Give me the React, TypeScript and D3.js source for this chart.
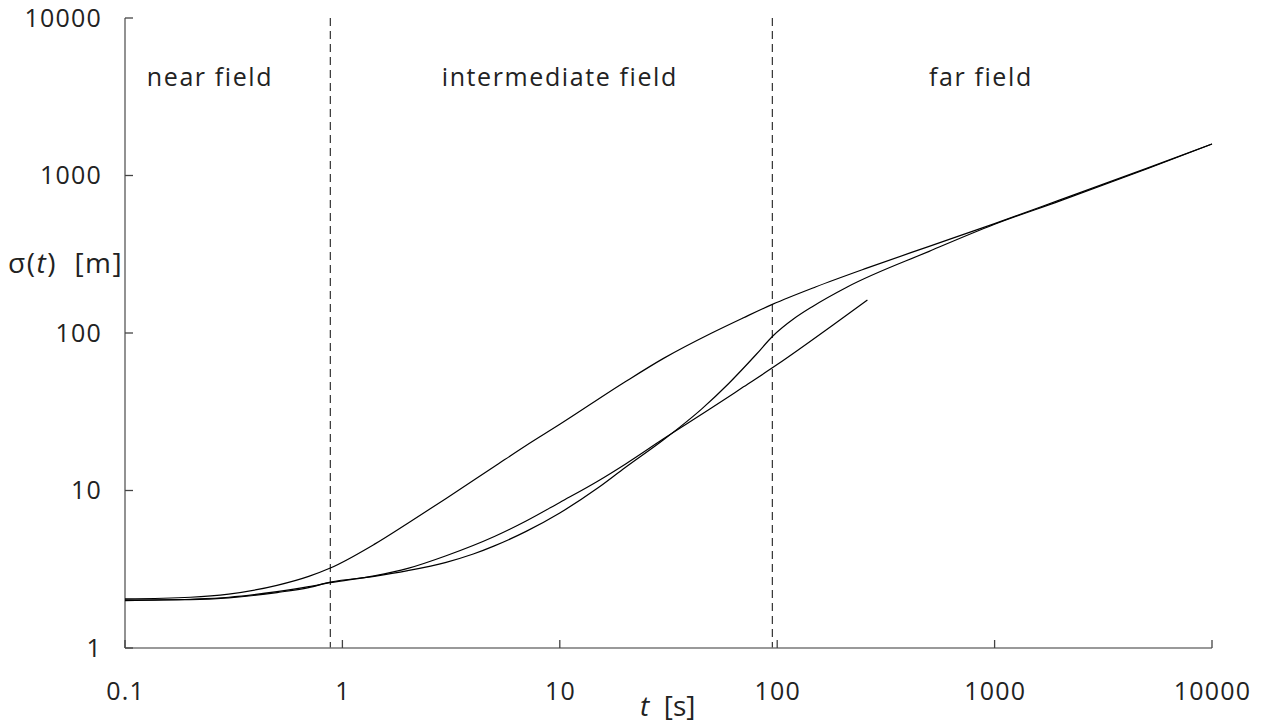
import React from 'react';
import * as d3 from 'd3';

// tick values and their labels
const xTicks = [0.1, 1, 10, 100, 1000, 10000];
const xTickLabels = ['0.1', '1', '10', '100', '1000', '10000'];
const yTicks = [1, 10, 100, 1000, 10000];
const yTickLabels = ['1', '10', '100', '1000', '10000'];

// region boundaries (t in s) and region names
const boundaries = [0.88, 95];
const regionNames = ['near field', 'intermediate field', 'far field'];
const regionCenters = [0.246, 10, 865];

// curve 1: upper curve
const tA = [0.1, 0.2, 0.3, 0.5, 0.7, 0.88, 1.4, 2, 3, 5, 7, 10, 20, 30, 50, 70, 95, 150, 260, 500, 1000, 2000, 5000, 10000];
const sA = [2.05, 2.1, 2.2, 2.5, 2.85, 3.22, 4.55, 6.2, 8.9, 14.2, 19.3, 26.3, 49, 69, 100, 125, 152, 196, 259, 355, 495, 700, 1110, 1585];

// curve 2: straight-ish curve ending near t = 260
const tB = [0.1, 0.2, 0.3, 0.5, 0.7, 0.88, 1.4, 2, 3, 5, 7, 10, 15, 20, 30, 50, 70, 100, 180, 260];
const sB = [2.0, 2.04, 2.1, 2.28, 2.45, 2.6, 2.87, 3.2, 3.85, 5.1, 6.4, 8.4, 11.5, 14.7, 21.3, 33.5, 45.5, 63, 112, 162];

// curve 3: lower curve joining the upper one in the far field
const tC = [0.1, 0.2, 0.3, 0.5, 0.7, 0.88, 1.4, 2, 3, 4, 5, 7, 10, 15, 20, 30, 45, 60, 80, 95, 120, 145, 210, 500, 1000, 2000, 5000, 10000];
const sC = [2.02, 2.03, 2.08, 2.25, 2.42, 2.62, 2.85, 3.1, 3.5, 3.95, 4.45, 5.5, 7.2, 10.4, 14, 21, 33, 48, 73, 95, 124, 147, 196, 330, 490, 690, 1100, 1585];

const font = '"Open Sans", "DejaVu Sans", sans-serif';

const App = () => {
  const width = 1262;
  const height = 723;

  const x = d3.scaleLog().domain([0.1, 10000]).range([125, 1212]);
  const y = d3.scaleLog().domain([1, 10000]).range([648, 18]);

  const line = d3.line<[number, number]>()
    .x(d => x(d[0]))
    .y(d => y(d[1]))
    .curve(d3.curveMonotoneX);

  const curves = [
    tA.map((t, i) => [t, sA[i]] as [number, number]),
    tB.map((t, i) => [t, sB[i]] as [number, number]),
    tC.map((t, i) => [t, sC[i]] as [number, number]),
  ];

  const [x0, x1] = x.range();
  const [y0, y1] = y.range();

  return (
    <svg width={width} height={height}
      style={{ position: 'absolute', left: 0, top: 0, display: 'block', background: '#fff' }}
      fontFamily={font}>
      {/* region boundaries */}
      {boundaries.map(b => (
        <line key={b} x1={x(b)} x2={x(b)} y1={y1} y2={y0}
          stroke="#333" strokeWidth={1.2} strokeDasharray="8,5" />
      ))}

      {/* axes */}
      <line x1={x0} x2={x1} y1={y0} y2={y0} stroke="#777" strokeWidth={1.6} />
      <line x1={x0} x2={x0} y1={y0} y2={y1} stroke="#777" strokeWidth={1.6} />
      {xTicks.map((t, i) => (
        <g key={'x' + t}>
          <line x1={x(t)} x2={x(t)} y1={y0} y2={y0 - 8} stroke="#444" strokeWidth={1.3} />
          <text x={x(t) + 0.6} y={700} textAnchor="middle" fontSize={25} letterSpacing={1.2} fill="#222">{xTickLabels[i]}</text>
        </g>
      ))}
      {yTicks.map((v, i) => (
        <g key={'y' + v}>
          <line x1={x0} x2={x0 + 8} y1={y(v)} y2={y(v)} stroke="#444" strokeWidth={1.3} />
          <text x={102} y={y(v)} dy="0.35em" textAnchor="end" fontSize={25} letterSpacing={1.2} fill="#222">{yTickLabels[i]}</text>
        </g>
      ))}

      {/* axis titles */}
      <text x={8} y={273} fontSize={28} letterSpacing={1.5} fill="#222" xmlSpace="preserve">
        σ(<tspan fontStyle="italic">t</tspan>)  [m]
      </text>
      <text x={640} y={716} fontSize={28} fill="#222" xmlSpace="preserve">
        <tspan fontStyle="italic">t</tspan>  [s]
      </text>

      {/* region labels */}
      {regionNames.map((name, i) => (
        <text key={name} x={x(regionCenters[i])} y={86} textAnchor="middle"
          fontSize={25} letterSpacing={1.6} fill="#222">{name}</text>
      ))}

      {/* curves */}
      {curves.map((c, i) => (
        <path key={i} d={line(c) || ''} fill="none" stroke="#000" strokeWidth={1.2} />
      ))}
    </svg>
  );
};

export default App;
